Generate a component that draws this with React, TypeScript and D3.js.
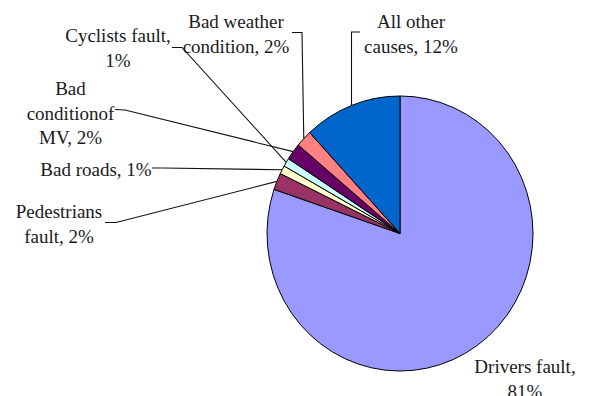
import React, { useRef, useEffect } from 'react';
import * as d3 from 'd3';

// data
const causes = ['Drivers fault', 'Pedestrians fault', 'Bad roads', 'Cyclists fault', 'Bad condition of MV', 'Bad weather condition', 'All other causes'];
const shares = [81, 2, 1, 1, 2, 2, 12];
const labelLines = [
    ['Drivers fault,', '81%'],
    ['Pedestrians', 'fault, 2%'],
    ['Bad roads, 1%'],
    ['Cyclists fault,', '1%'],
    ['Bad', 'conditionof', 'MV, 2%'],
    ['Bad weather', 'condition, 2%'],
    ['All other', 'causes, 12%'],
];
const colors = ['#9999FF', '#993366', '#FFFFCC', '#CCFFFF', '#660066', '#FF8080', '#0066CC'];

// label layout: centre x, first baseline, and leader stub (null = no leader)
const labelPos = [
    { x: 525, y: 373, stub: null },
    { x: 59, y: 218, stub: [[105, 222.5], [116, 222.5]] },
    { x: 96, y: 176, stub: [[152, 168], [163, 168]] },
    { x: 118, y: 42, stub: [[172, 47.5], [182, 47.5]] },
    { x: 70.5, y: 95, stub: [[115, 109.5], [125, 110]] },
    { x: 236, y: 28, stub: [[292, 32.5], [302, 32.5]] },
    { x: 411, y: 28, stub: [[360, 32], [351.5, 32]] },
];

const PieChart = () => {
    const svgRef = useRef();

    useEffect(() => {
        const svg = d3.select(svgRef.current);
        svg.selectAll('*').remove();
        const width = 597;
        const height = 396;
        const cx = 400;
        const cy = 233.5;
        const r = 133;
        const sy = 1.034;

        svg.attr('width', width).attr('height', height);

        const data = causes.map((c, i) => ({ cause: c, value: shares[i], i }));
        const pie = d3.pie().value(d => d.value).sort(null);
        const arcs = pie(data);
        const arc = d3.arc().innerRadius(0).outerRadius(r);

        svg.append('g')
            .attr('transform', `translate(${cx},${cy}) scale(1,${sy})`)
            .selectAll('path')
            .data(arcs)
            .join('path')
            .attr('d', arc)
            .attr('fill', d => colors[d.data.i])
            .attr('stroke', '#000')
            .attr('stroke-width', 1)
            .attr('vector-effect', 'non-scaling-stroke')
            .attr('stroke-linejoin', 'round');

        const edge = d => {
            const a = (d.startAngle + d.endAngle) / 2;
            return [cx + r * Math.sin(a), cy - sy * r * Math.cos(a)];
        };

        svg.append('g')
            .selectAll('path')
            .data(arcs.filter(d => labelPos[d.data.i].stub))
            .join('path')
            .attr('d', d => d3.line()([...labelPos[d.data.i].stub, edge(d)]))
            .attr('fill', 'none')
            .attr('stroke', '#111')
            .attr('stroke-width', 1.1);

        const labels = svg.append('g')
            .attr('font-family', '"Liberation Serif", "Times New Roman", serif')
            .attr('font-size', 19)
            .attr('fill', '#1a1a1a')
            .attr('text-anchor', 'middle')
            .selectAll('text')
            .data(data)
            .join('text')
            .attr('x', d => labelPos[d.i].x)
            .attr('y', d => labelPos[d.i].y);

        labels.selectAll('tspan')
            .data(d => labelLines[d.i].map(t => ({ t, x: labelPos[d.i].x })))
            .join('tspan')
            .attr('x', d => d.x)
            .attr('dy', (d, k) => (k === 0 ? 0 : 24.7))
            .text(d => d.t);
    }, []);

    return <svg ref={svgRef} style={{ position: 'absolute', left: 0, top: 0 }}></svg>;
};

export default function App() {
    return <PieChart />;
}
